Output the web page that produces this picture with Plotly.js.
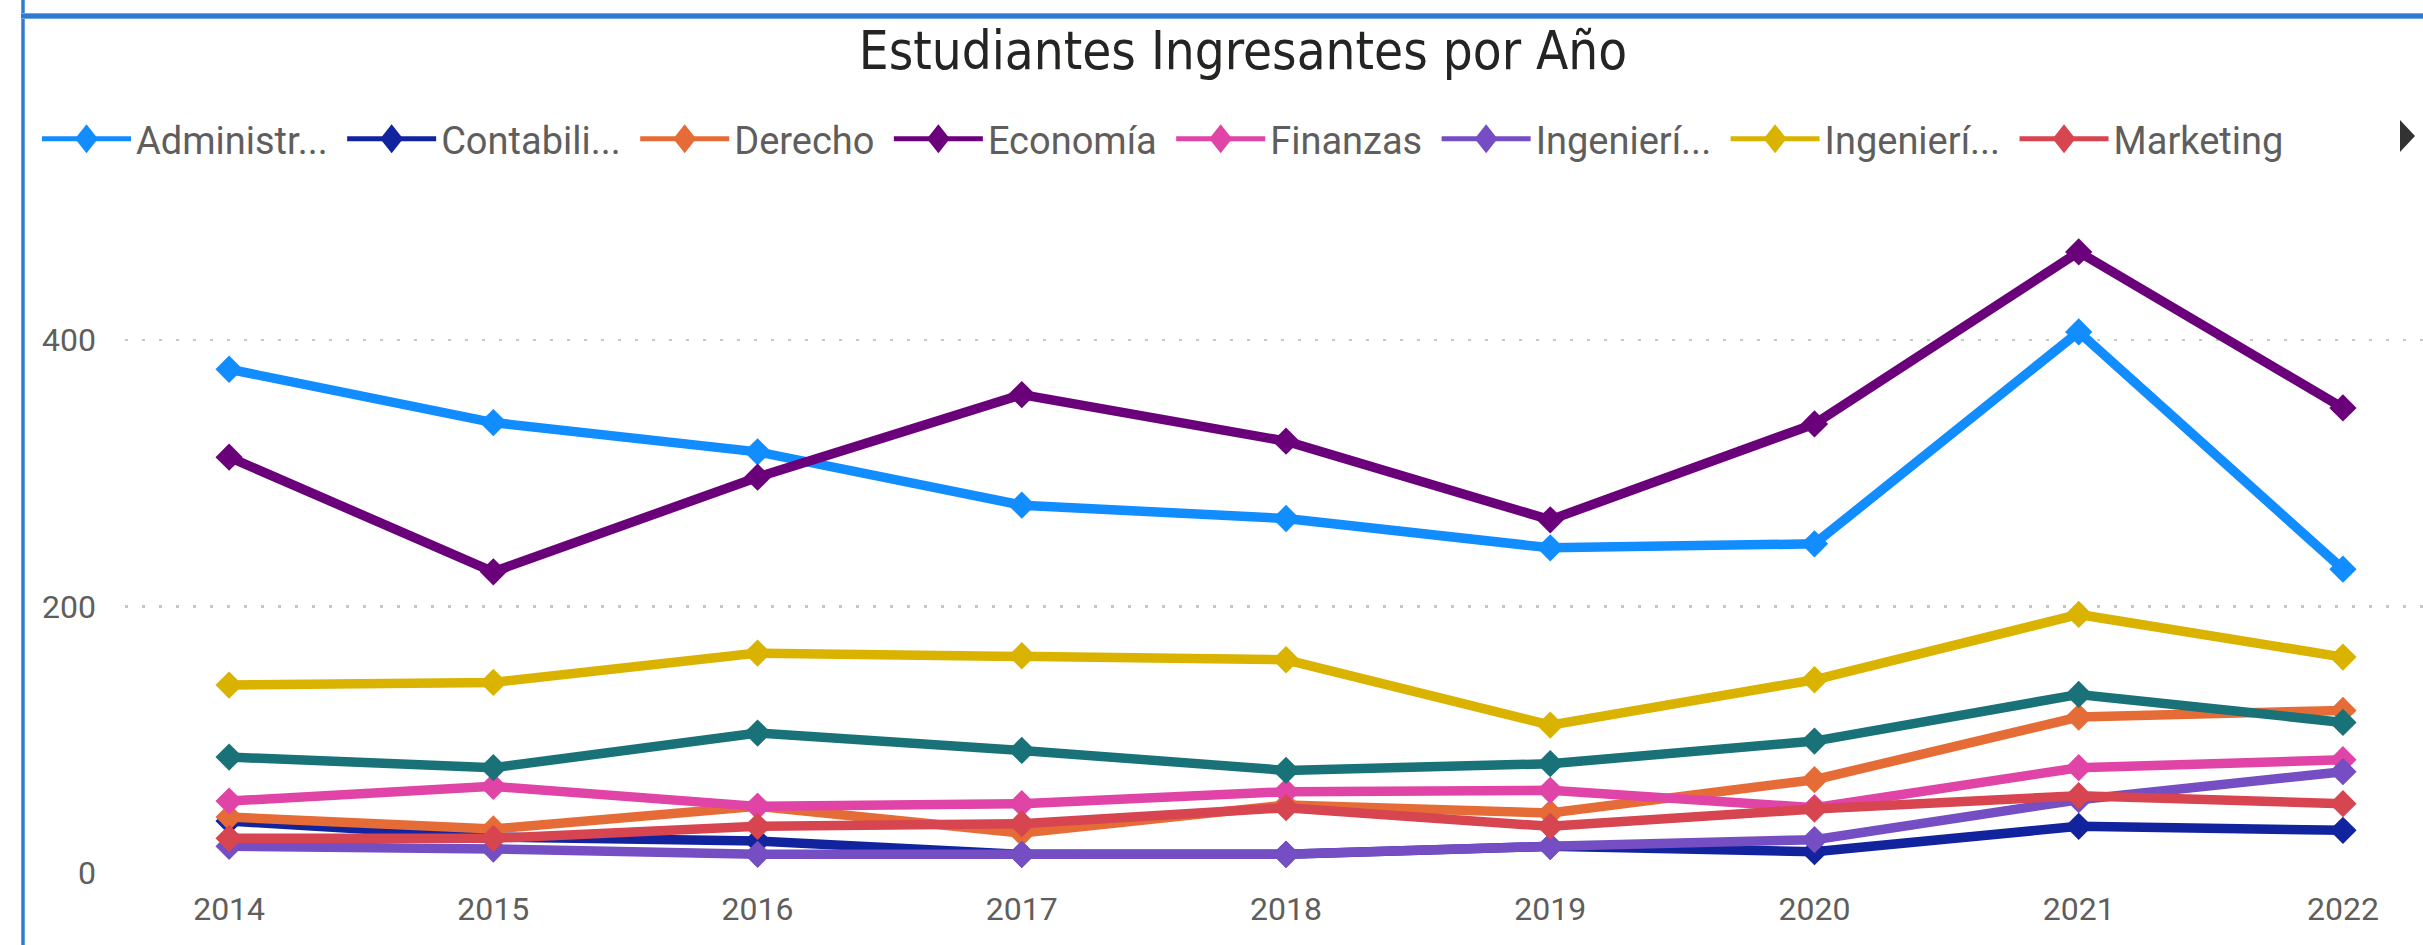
<!DOCTYPE html>
<html>
<head>
<meta charset="utf-8">
<script src="https://cdn.plot.ly/plotly-3.0.1.min.js"></script>
<style>
  html, body { margin: 0; padding: 0; background: #ffffff; overflow: hidden; }
  #chart { width: 2423px; height: 945px; position: absolute; left: 0; top: 0; }
  .frame { position: absolute; pointer-events: none; z-index: 10; }
  #vline { left: 21px; top: 0; width: 4px; height: 945px;
    background: linear-gradient(to right, #9CC3EE 0%, #2F7BD2 25%, #2F7BD2 75%, #9CC3EE 100%); }
  #hline { left: 21px; top: 13px; right: 0; height: 6px;
    background: linear-gradient(to bottom, #9CC3EE 0%, #2F7BD2 20%, #2F7BD2 42%, #7FB0E6 50%, #2F7BD2 58%, #2F7BD2 80%, #9CC3EE 100%); }
</style>
</head>
<body>
<div id="chart"></div>
<div id="vline" class="frame"></div>
<div id="hline" class="frame"></div>
<script>
// ---- data ----
const years = [2014, 2015, 2016, 2017, 2018, 2019, 2020, 2021, 2022];
const yearLabels = ["2014", "2015", "2016", "2017", "2018", "2019", "2020", "2021", "2022"];
const seriesNames = ["Administr...", "Contabili...", "Derecho", "Economía", "Finanzas", "Ingenierí...", "Ingenierí...", "Marketing", "Otra carrera"];
const administracion = [378, 338, 316, 276, 266, 244, 247, 406, 228];
const contabilidad   = [39, 27, 24, 14, 14, 20, 16, 35, 32];
const derecho        = [42, 33, 50, 30, 51, 45, 70, 117, 122];
const economia       = [312, 226, 297, 359, 324, 265, 337, 466, 349];
const finanzas       = [54, 65, 50, 52, 61, 62, 49, 79, 85];
const ingenieriaA    = [20, 18, 14, 14, 14, 20, 25, 55, 76];
const ingenieriaB    = [141, 143, 165, 163, 160, 111, 145, 194, 162];
const marketing      = [26, 26, 35, 37, 49, 35, 48, 58, 52];
const otraCarrera    = [87, 79, 105, 92, 77, 82, 99, 134, 113];
const yTicks = [0, 200, 400];

// ---- styles ----
const seriesValues = [administracion, contabilidad, derecho, economia, finanzas, ingenieriaA, ingenieriaB, marketing, otraCarrera];
const colors = ["#118DFF", "#12239E", "#E66C37", "#6B007B", "#E044A7", "#744EC2", "#D9B300", "#D64550", "#197278"];
const inLegend = [true, true, true, true, true, true, true, true, false];

const W = 2423, H = 945;
const M = { l: 125, r: 0, t: 180, b: 72 };
const plotW = W - M.l - M.r, plotH = H - M.t - M.b;
const uiFont = "Segoe UI, Roboto, 'Open Sans', sans-serif";
const legendPad = "\u00A0"; // spacing after each legend entry

const traces = seriesValues.map((vals, i) => ({
  type: "scatter",
  mode: "lines+markers",
  x: years,
  y: vals,
  name: seriesNames[i] + legendPad,
  showlegend: inLegend[i],
  line: { color: colors[i], width: 9.5 },
  marker: { symbol: "diamond", size: 21, color: colors[i] },
  cliponaxis: false
}));

const layout = {
  width: W, height: H,
  margin: M,
  paper_bgcolor: "#ffffff",
  plot_bgcolor: "#ffffff",
  title: {
    text: "Estudiantes Ingresantes por Año",
    font: { family: "'DejaVu Sans Condensed', 'DejaVu Sans', sans-serif", size: 52.5, color: "#252423" },
    x: 1243 / W, xref: "container", xanchor: "center",
    y: 1 - 51 / H, yref: "container", yanchor: "middle"
  },
  showlegend: true,
  legend: {
    orientation: "h",
    x: (37 - M.l) / plotW, xanchor: "left",
    y: 1 + (M.t - 139) / plotH, yanchor: "middle",
    font: { family: uiFont, size: 38, color: "#605E5C" },
    itemwidth: 89,
    bgcolor: "rgba(0,0,0,0)",
    traceorder: "normal"
  },
  xaxis: {
    type: "linear",
    range: [2013.606, 2022.303],
    tickvals: years,
    ticktext: yearLabels,
    showgrid: false, zeroline: false, showline: false, ticks: "",
    ticklabelstandoff: 14,
    tickfont: { family: uiFont, size: 32, color: "#605E5C" }
  },
  yaxis: {
    range: [0, 520],
    tickvals: yTicks,
    ticktext: yTicks.map(String),
    showgrid: true,
    gridcolor: "#C8C6C4",
    gridwidth: 2.5,
    griddash: "2.5px,14.5px",
    zeroline: false, showline: false, ticks: "",
    ticklabelstandoff: 28,
    tickfont: { family: uiFont, size: 32, color: "#605E5C" }
  },
  shapes: [{
    type: "path", xref: "paper", yref: "paper",
    xsizemode: "pixel", ysizemode: "pixel",
    xanchor: 1, yanchor: 1 + (M.t - 136) / plotH,
    path: "M-23,16 L-8,0 L-23,-16 Z",
    fillcolor: "#333333", line: { width: 0 }
  }]
};

Plotly.newPlot("chart", traces, layout, { displayModeBar: false, staticPlot: true }).then(gd => {
  // legend glyphs styled like the reference legend: thinner line, taller diamond
  gd.querySelectorAll(".legend .legendlines path").forEach(p => { p.style.strokeWidth = "5px"; });
  gd.querySelectorAll(".legend .legendpoints path.scatterpts").forEach(p => {
    const t = p.getAttribute("transform") || "";
    p.setAttribute("transform", t + " scale(1.1,1.4)");
  });
});
</script>
</body>
</html>
